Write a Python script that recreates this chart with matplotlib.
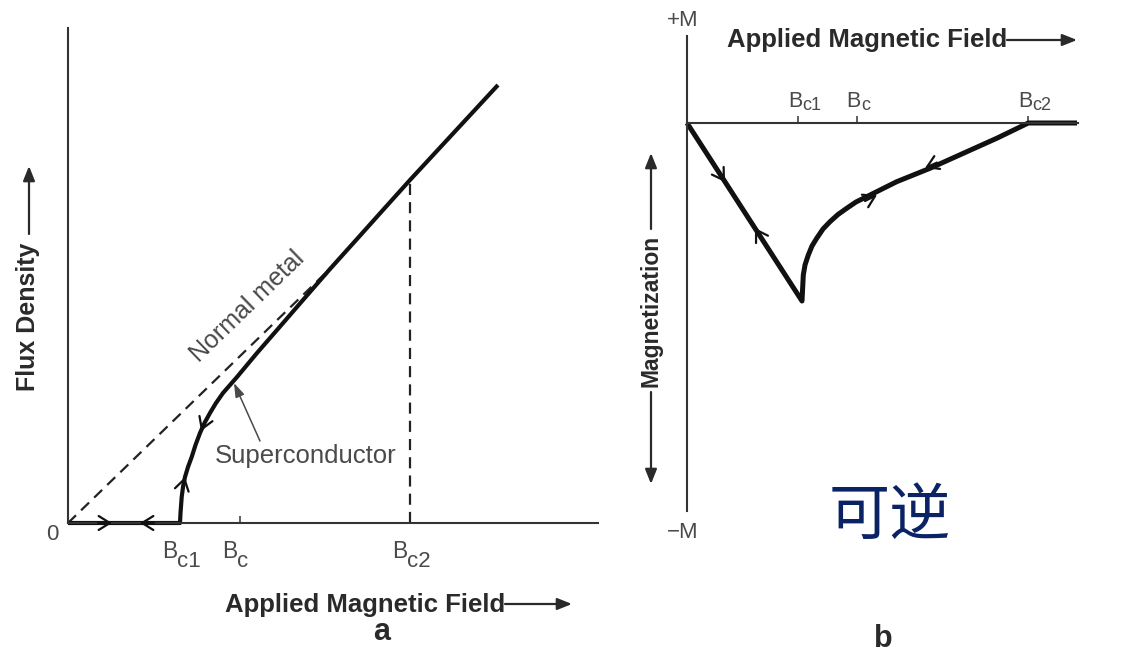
import matplotlib
matplotlib.use('Agg')
import matplotlib.pyplot as plt

plt.rcParams['font.family'] = ['Liberation Sans', 'Noto Sans CJK SC', 'DejaVu Sans']

W, H = 1140, 664

# panel a: flux density against applied field (1 unit = 100 px of the picture)
normal_h = [0.0, 2.70]
normal_b = [0.0, 2.62]
sc_h = [0.0, 1.12, 1.125, 1.137, 1.15, 1.17, 1.20, 1.237, 1.275, 1.32, 1.365, 1.42, 1.48, 1.55, 1.62,
        1.69, 1.89, 2.09, 2.35, 2.62, 2.89, 3.15, 3.42, 4.30]
sc_b = [0.0, 0.0, 0.10, 0.26, 0.36, 0.46, 0.56, 0.66, 0.78, 0.90, 1.00, 1.10, 1.20, 1.30, 1.38,
        1.46, 1.70, 1.93, 2.23, 2.54, 2.84, 3.13, 3.43, 4.38]
bc_a = [1.12, 1.72, 3.42]
sub_a = ['c1', 'c', 'c2']
bc2_top = 3.43
# chevrons (tail, tip) along the curve
chev_a = [((0.30, 0.0), (0.44, 0.0)), ((0.86, 0.0), (0.72, 0.0)),
          ((1.145, 0.36), (1.17, 0.46)), ((1.37, 1.02), (1.33, 0.92))]

# panel b: magnetization against applied field
mag_h = [0.0, 1.15, 1.163, 1.18, 1.213, 1.25, 1.297, 1.36, 1.43, 1.51, 1.597, 1.69, 1.797,
         2.097, 2.43, 2.763, 3.097, 3.413, 3.90]
mag_m = [0.0, -1.78, -1.52, -1.42, -1.32, -1.23, -1.153, -1.06, -0.987, -0.915, -0.853, -0.79, -0.737,
         -0.587, -0.453, -0.303, -0.153, 0.0, 0.0]
bc_b = [1.11, 1.70, 3.41]
sub_b = ['c1', 'c', 'c2']
chev_b = [((0.30, -0.466), (0.38, -0.59)), ((0.76, -1.18), (0.68, -1.05)),
          ((1.78, -0.78), (1.90, -0.72)), ((2.50, -0.396), (2.38, -0.45))]

AX = '#333333'
CURVE = '#111111'
BOLD = '#2a2a2a'
GRAY = '#4a4a4a'


def fpos(x, y):
    # picture pixel -> figure fraction
    return (x / W, 1 - y / H)


def chevrons(ax, pairs):
    for tail, tip in pairs:
        ax.annotate('', xy=tip, xytext=tail,
                    arrowprops=dict(arrowstyle='->, head_length=0.45, head_width=0.28',
                                    mutation_scale=18, lw=1.6, color=CURVE,
                                    shrinkA=0, shrinkB=0))


def fig_arrow(fig, start, end):
    fig.add_artist(matplotlib.patches.FancyArrowPatch(
        fpos(*start), fpos(*end), transform=fig.transFigure,
        arrowstyle='-|>, head_length=0.55, head_width=0.22', mutation_scale=16,
        lw=1.6, color=BOLD, shrinkA=0, shrinkB=0))


fig = plt.figure(figsize=(W / 100, H / 100), dpi=100)

# ---------- panel a ----------
ax_a = fig.add_axes([68 / W, (H - 523) / H, 530 / W, 495 / H])
ax_a.set_xlim(0, 5.30)
ax_a.set_ylim(0, 4.95)
for s in ['top', 'right']:
    ax_a.spines[s].set_visible(False)
for s in ['left', 'bottom']:
    ax_a.spines[s].set_color(AX)
    ax_a.spines[s].set_linewidth(1.5)
ax_a.set_xticks(bc_a)
ax_a.set_yticks([])
ax_a.tick_params(axis='x', direction='in', length=5, width=1.1, color=AX, labelbottom=False)

ax_a.plot(normal_h, normal_b, color='#222222', lw=1.6, ls=(0, (5, 3.2)), clip_on=False)
ax_a.plot([bc_a[2], bc_a[2]], [0, bc2_top], color='#222222', lw=1.6, ls=(0, (5, 3.2)))
ax_a.plot(sc_h, sc_b, color=CURVE, lw=3.0, solid_joinstyle='round', solid_capstyle='butt', clip_on=False)
chevrons(ax_a, chev_a)

for x, s in zip(bc_a, sub_a):
    ax_a.annotate('B', xy=(x, 0), xytext=(-3, -35), textcoords='offset pixels',
                  ha='right', va='baseline', fontsize=16.5, color=GRAY)
    ax_a.annotate(s, xy=(x, 0), xytext=(-3, -44), textcoords='offset pixels',
                  ha='left', va='baseline', fontsize=16, color=GRAY)
ax_a.annotate('0', xy=(0, 0), xytext=(-16, -12), textcoords='offset pixels',
              ha='center', va='center', fontsize=16, color=GRAY)

ax_a.text(1.79, 2.17, 'Normal metal', rotation=44, rotation_mode='anchor',
          ha='center', va='center', fontsize=18, color=GRAY)
ax_a.text(1.47, 0.60, 'Superconductor', ha='left', va='baseline', fontsize=18.5, color=GRAY)
ax_a.annotate('', xy=(1.66, 1.40), xytext=(1.92, 0.82),
              arrowprops=dict(arrowstyle='-|>, head_length=0.6, head_width=0.2',
                              mutation_scale=14, lw=1.1, color=GRAY, shrinkA=0, shrinkB=0))

fig.text(*fpos(505, 612), 'Applied Magnetic Field', ha='right', va='baseline',
         fontsize=18.5, fontweight='bold', color=BOLD)
fig_arrow(fig, (505, 604), (572, 604))
fig.text(*fpos(28, 317), 'Flux Density', rotation=90, ha='center', va='center',
         fontsize=18, fontweight='bold', color=BOLD)
fig_arrow(fig, (29, 234), (29, 166))
fig.text(*fpos(382, 640), 'a', ha='center', va='baseline', fontsize=22,
         fontweight='bold', color=BOLD)

# ---------- panel b ----------
ax_b = fig.add_axes([687 / W, (H - 511) / H, 391 / W, 475 / H])
ax_b.set_xlim(0, 3.91)
ax_b.set_ylim(-3.88, 0.87)
for s in ['top', 'right']:
    ax_b.spines[s].set_visible(False)
for s in ['left', 'bottom']:
    ax_b.spines[s].set_color(AX)
    ax_b.spines[s].set_linewidth(1.5)
ax_b.spines['bottom'].set_position(('data', 0))
ax_b.set_xticks(bc_b)
ax_b.set_yticks([])
ax_b.tick_params(axis='x', direction='in', length=5, width=1.1, color=AX, labelbottom=False)

ax_b.plot(mag_h, mag_m, color=CURVE, lw=3.6, solid_joinstyle='round', solid_capstyle='butt', clip_on=False)
chevrons(ax_b, chev_b)

for x, s in zip(bc_b, sub_b):
    ax_b.annotate('B', xy=(x, 0), xytext=(4, 16), textcoords='offset pixels',
                  ha='right', va='baseline', fontsize=15.5, color=GRAY)
    ax_b.annotate(s, xy=(x, 0), xytext=(4, 13), textcoords='offset pixels',
                  ha='left', va='baseline', fontsize=13, color=GRAY)

ax_b.annotate('+M', xy=(0, 1), xycoords='axes fraction', xytext=(-4, 16), textcoords='offset pixels',
              ha='center', va='center', fontsize=16, color=GRAY)
ax_b.annotate('\u2212M', xy=(0, 0), xycoords='axes fraction', xytext=(-4, -22), textcoords='offset pixels',
              ha='center', va='center', fontsize=16, color=GRAY)

fig.text(*fpos(1007, 47), 'Applied Magnetic Field', ha='right', va='baseline',
         fontsize=18.5, fontweight='bold', color=BOLD)
fig_arrow(fig, (1007, 40), (1077, 40))
fig.text(*fpos(651, 311), 'Magnetization', rotation=90, ha='center', va='center',
         fontsize=16.5, fontweight='bold', color=BOLD)
fig_arrow(fig, (651, 229), (651, 153))
fig_arrow(fig, (651, 392), (651, 484))

fig.text(*fpos(890, 517), '可逆', ha='center', va='center', fontsize=44,
         family=['Noto Sans CJK SC', 'DejaVu Sans'], color='#0b2265')
fig.text(*fpos(883, 647), 'b', ha='center', va='baseline', fontsize=22,
         fontweight='bold', color=BOLD)

fig.savefig('out.png', dpi=100, facecolor='white')
